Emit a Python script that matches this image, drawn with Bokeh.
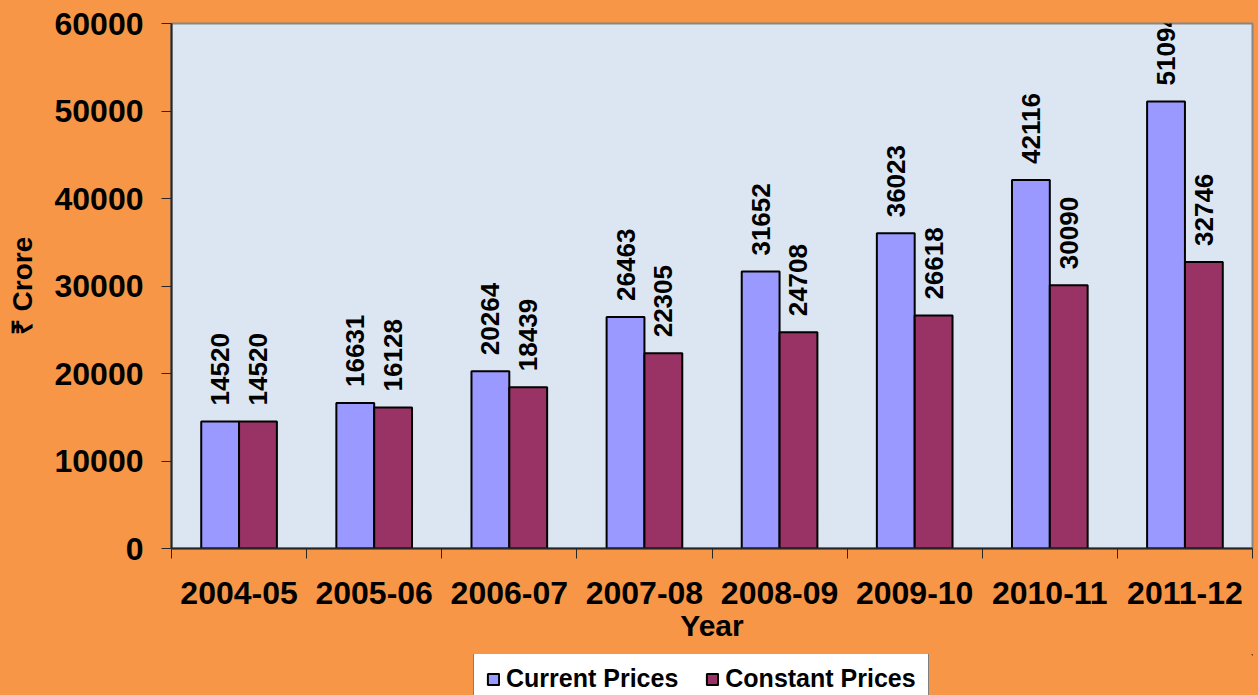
from bokeh.plotting import figure
from bokeh.models import ColumnDataSource, FixedTicker, Legend, LegendItem
from bokeh.layouts import column
from bokeh.core.properties import value
from bokeh.embed import file_html
from bokeh.resources import INLINE
import numpy as np

years = ["2004-05", "2005-06", "2006-07", "2007-08", "2008-09", "2009-10", "2010-11", "2011-12"]
current_prices = [14520, 16631, 20264, 26463, 31652, 36023, 42116, 51094]
constant_prices = [14520, 16128, 18439, 22305, 24708, 26618, 30090, 32746]
y_ticks = [0, 10000, 20000, 30000, 40000, 50000, 60000]
series_names = ["Current Prices", "Constant Prices"]
series_colors = ["#9999FF", "#993366"]

FONT = "Liberation Sans"
ORANGE = "#F79646"

idx = np.arange(len(years))
src = ColumnDataSource(dict(
    xc=idx + 0.36, xk=idx + 0.64,
    cur=current_prices, con=constant_prices,
    curl=[str(v) for v in current_prices], conl=[str(v) for v in constant_prices],
))

p = figure(width=1258, height=654, x_range=(0, len(years)), y_range=(0, 60000),
           output_backend="svg", toolbar_location=None,
           min_border_left=171, min_border_top=23, min_border_right=6, min_border_bottom=106)
p.background_fill_color = "#DCE6F2"
p.border_fill_color = ORANGE
p.outline_line_color = "#868686"
p.outline_line_width = 2
p.grid.visible = False

p.vbar(x="xc", top="cur", width=0.28, source=src, fill_color=series_colors[0],
       line_color="black", line_width=2)
p.vbar(x="xk", top="con", width=0.28, source=src, fill_color=series_colors[1],
       line_color="black", line_width=2)

for xcol, ycol, tcol in [("xc", "cur", "curl"), ("xk", "con", "conl")]:
    p.text(x=xcol, y=ycol, text=tcol, source=src, angle=np.pi / 2,
           text_align="left", text_baseline="middle", y_offset=-16,
           text_font=value(FONT), text_font_style="bold", text_font_size="26px",
           text_color="black")

# y axis
ya = p.yaxis[0]
ya.ticker = FixedTicker(ticks=y_ticks)
ya.axis_label = "₹ Crore"
ya.axis_label_text_font = FONT
ya.axis_label_text_font_style = "bold"
ya.axis_label_text_font_size = "28px"
ya.axis_label_text_color = "black"
ya.axis_label_standoff = 14
ya.major_label_text_font = FONT
ya.major_label_text_font_style = "bold"
ya.major_label_text_font_size = "32px"
ya.major_label_text_color = "black"
ya.major_label_standoff = 18
ya.major_tick_out = 10
ya.major_tick_in = 0
ya.minor_tick_line_color = None
ya.axis_line_color = "#262626"
ya.axis_line_width = 2
ya.major_tick_line_color = "#262626"

# x axis
xa = p.xaxis[0]
xa.ticker = FixedTicker(ticks=[i + 0.5 for i in range(len(years))],
                        minor_ticks=list(range(len(years) + 1)))
xa.major_label_overrides = {i + 0.5: y for i, y in enumerate(years)}
xa.axis_label = "Year"
xa.axis_label_text_font = FONT
xa.axis_label_text_font_style = "bold"
xa.axis_label_text_font_size = "30px"
xa.axis_label_text_color = "black"
xa.axis_label_standoff = 2
xa.major_label_text_font = FONT
xa.major_label_text_font_style = "bold"
xa.major_label_text_font_size = "32px"
xa.major_label_text_color = "black"
xa.major_label_standoff = 23
xa.major_tick_line_color = None
xa.minor_tick_out = 10
xa.minor_tick_in = 0
xa.minor_tick_line_color = "#262626"
xa.axis_line_color = "#262626"
xa.axis_line_width = 2

# legend strip below the chart
lf = figure(width=1258, height=41, x_range=(-10, -9), y_range=(-10, -9),
            output_backend="svg", toolbar_location=None,
            x_axis_location=None, y_axis_location=None, min_border=0)
lf.grid.visible = False
lf.background_fill_color = ORANGE
lf.border_fill_color = ORANGE
lf.outline_line_color = None
lr1 = lf.vbar(x=[0], top=[1], width=0.5, fill_color=series_colors[0], line_color="black", line_width=2)
lr2 = lf.vbar(x=[0], top=[1], width=0.5, fill_color=series_colors[1], line_color="black", line_width=2)

legend = Legend(items=[LegendItem(label=series_names[0], renderers=[lr1]),
                       LegendItem(label=series_names[1], renderers=[lr2])],
                orientation="horizontal", location=(302, -11),
                label_text_font=FONT, label_text_font_style="bold",
                label_text_color="black",
                label_text_font_size="25px", glyph_width=14, glyph_height=14,
                label_standoff=6, spacing=27, padding=12, margin=0,
                border_line_color="black", border_line_width=1,
                background_fill_color="white", background_fill_alpha=1.0)
lf.add_layout(legend, "center")

layout = column(p, lf, spacing=0)

html = file_html(layout, INLINE)
html = html.replace("</head>", "<style>html,body{background:%s;}</style></head>" % ORANGE, 1)
open("out.html", "w").write(html)
